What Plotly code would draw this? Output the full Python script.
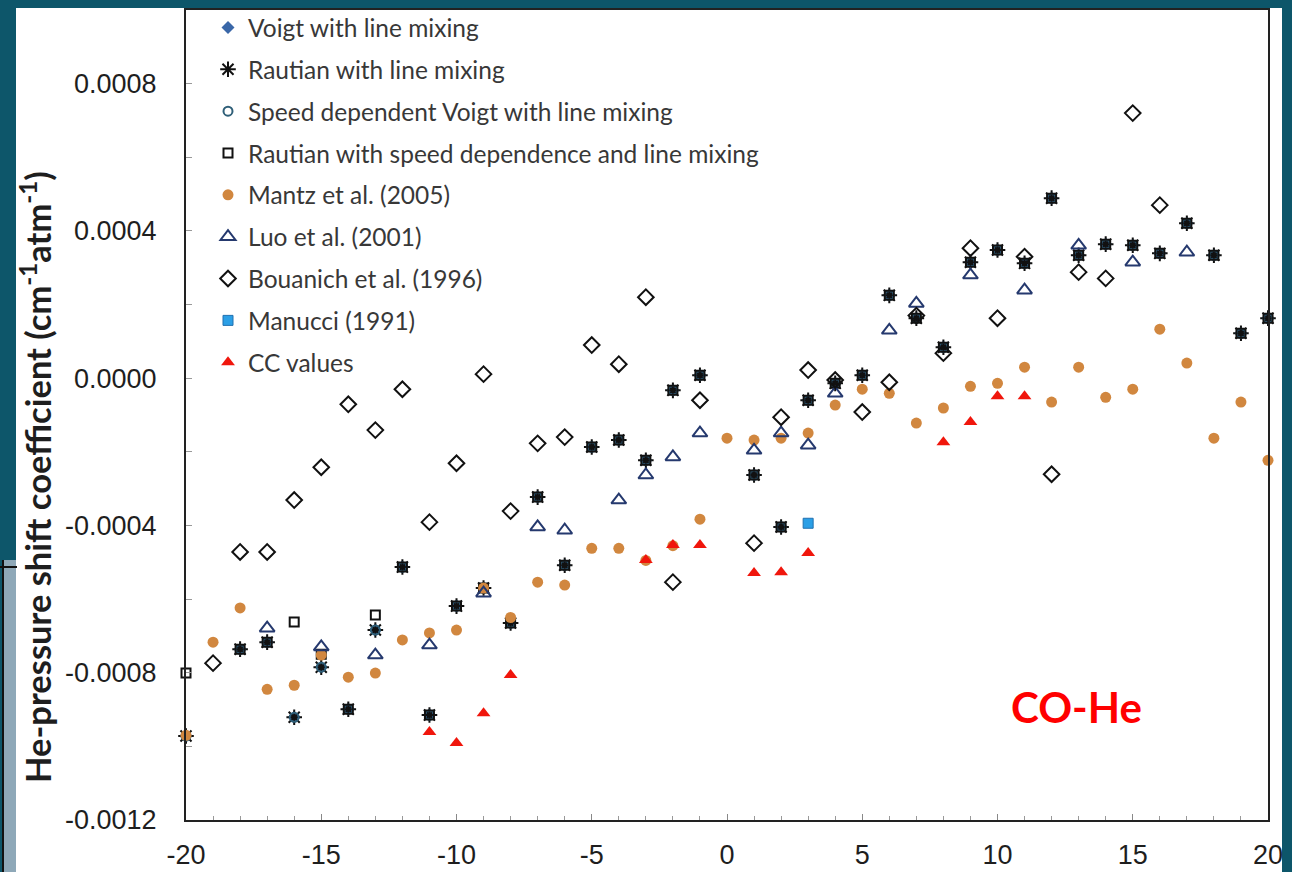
import plotly.graph_objects as go

# Rotational index m and He-pressure shift coefficients (cm-1 atm-1)
m_model = [-20, -18, -17, -16, -15, -14, -13, -12, -11, -10, -9, -8, -7, -6, -5, -4, -3, -2, -1,
           1, 2, 3, 4, 5, 6, 7, 8, 9, 10, 11, 12, 13, 14, 15, 16, 17, 18, 19, 20]
voigt_lm = [-0.000972, -0.000736, -0.000717, -0.000921, -0.000785, -0.000899, -0.000684, -0.000513,
            -0.000915, -0.000619, -0.000570, -0.000665, -0.000323, -0.000508, -0.000187, -0.000168,
            -0.000223, -0.000033, 0.000008,
            -0.000263, -0.000404, -0.000060, -0.000014, 0.000008, 0.000225, 0.000163, 0.000084,
            0.000315, 0.000348, 0.000312, 0.000489, 0.000334, 0.000364, 0.000361, 0.000339,
            0.000421, 0.000334, 0.000122, 0.000163]
rautian_lm = list(voigt_lm)
sdvoigt_lm = list(voigt_lm)
rautian_sd_lm = [-0.000801, -0.000736, -0.000717, -0.000662, -0.000750, -0.000899, -0.000643, -0.000513,
                 -0.000915, -0.000619, -0.000570, -0.000665, -0.000323, -0.000508, -0.000187, -0.000168,
                 -0.000223, -0.000033, 0.000008,
                 -0.000263, -0.000404, -0.000060, -0.000014, 0.000008, 0.000225, 0.000163, 0.000084,
                 0.000315, 0.000348, 0.000312, 0.000489, 0.000334, 0.000364, 0.000361, 0.000339,
                 0.000421, 0.000334, 0.000122, 0.000163]

m_mantz = list(range(-20, 21))
mantz = [-0.000970, -0.000717, -0.000624, -0.000845, -0.000834, -0.000752, -0.000812, -0.000801,
         -0.000711, -0.000692, -0.000684, -0.000570, -0.000650, -0.000554, -0.000562, -0.000462,
         -0.000462, -0.000495, -0.000455, -0.000383, -0.000163, -0.000168, -0.000163, -0.000149,
         -0.000073, -0.000030, -0.000041, -0.000122, -0.000081, -0.000022, -0.000014, 0.000030,
         -0.000065, 0.000030, -0.000052, -0.000030, 0.000133, 0.000041, -0.000163, -0.000065,
         -0.000223]

m_luo = [-17, -15, -13, -11, -9, -7, -6, -4, -3, -2, -1, 1, 2, 3, 4, 6, 7, 9, 11, 13, 15, 17]
luo = [-0.000679, -0.000730, -0.000752, -0.000725, -0.000584, -0.000404, -0.000413, -0.000331,
       -0.000263, -0.000214, -0.000149, -0.000196, -0.000149, -0.000182, -0.000041, 0.000130,
       0.000203, 0.000280, 0.000239, 0.000361, 0.000315, 0.000342]

m_bouanich = [-19, -18, -17, -16, -15, -14, -13, -12, -11, -10, -9, -8, -7, -6, -5, -4, -3, -2, -1,
              1, 2, 3, 4, 5, 6, 7, 8, 9, 10, 11, 12, 13, 14, 15, 16]
bouanich = [-0.000774, -0.000472, -0.000472, -0.000331, -0.000242, -0.000071, -0.000141, -0.000030,
            -0.000391, -0.000231, 0.000011, -0.000361, -0.000177, -0.000160, 0.000090, 0.000038,
            0.000220, -0.000554, -0.000060,
            -0.000448, -0.000106, 0.000022, -0.000005, -0.000092, -0.000011, 0.000170, 0.000068,
            0.000353, 0.000163, 0.000330, -0.000261, 0.000288, 0.000271, 0.000720, 0.000470]

m_manucci = [3]
manucci = [-0.000394]

m_cc = [-11, -10, -9, -8, -3, -2, -1, 1, 2, 3, 8, 9, 10, 11]
cc_values = [-0.000961, -0.000991, -0.000910, -0.000806, -0.000494, -0.000453, -0.000453,
             -0.000529, -0.000527, -0.000475, -0.000174, -0.000119, -0.000049, -0.000049]

# Axis tick labels (hyphen-minus as printed on the axes)
x_tickvals = [-20, -15, -10, -5, 0, 5, 10, 15, 20]
x_ticktext = ["-20", "-15", "-10", "-5", "0", "5", "10", "15", "20"]
y_tickvals = [-0.0012, -0.0008, -0.0004, 0.0, 0.0004, 0.0008]
y_ticktext = ["-0.0012", "-0.0008", "-0.0004", "0.0000", "0.0004", "0.0008"]

# Figure geometry (pixels)
W, H = 1292, 872
ML, MR, MT, MB = 186, 24, 10, 52
PW, PH = W - ML - MR, H - MT - MB


def px_x(p):
    return (p - ML) / PW


def px_y(p):
    return (H - MB - p) / PH


fig = go.Figure()

series = [
    ("Voigt with line mixing", m_model, voigt_lm,
     dict(symbol="diamond", size=10, color="#3a67a8", line=dict(width=0))),
    ("Rautian with line mixing", m_model, rautian_lm,
     dict(symbol="asterisk-open", size=13, color="#111111", line=dict(width=2, color="#111111"))),
    ("Speed dependent Voigt with line mixing", m_model, sdvoigt_lm,
     dict(symbol="circle-open", size=9, color="#2f5f78", line=dict(width=2, color="#2f5f78"))),
    ("Rautian with speed dependence and line mixing", m_model, rautian_sd_lm,
     dict(symbol="square-open", size=9, color="#111111", line=dict(width=2, color="#111111"))),
    ("Mantz et al. (2005)", m_mantz, mantz,
     dict(symbol="circle", size=11, color="#d1873f", line=dict(width=0))),
    ("Luo et al. (2001)", m_luo, luo,
     dict(symbol="triangle-up-open", size=13, color="#25396e", line=dict(width=2, color="#25396e"))),
    ("Bouanich et al. (1996)", m_bouanich, bouanich,
     dict(symbol="diamond-open", size=12, color="#111111", line=dict(width=2, color="#111111"))),
    ("Manucci (1991)", m_manucci, manucci,
     dict(symbol="square", size=10, color="#2b9fe6", line=dict(width=1, color="#2070b0"))),
    ("CC values", m_cc, cc_values,
     dict(symbol="triangle-up", size=12, color="#f0160c", line=dict(width=0))),
]

for i, (name, xs, ys, mk) in enumerate(series):
    fig.add_trace(go.Scatter(
        x=xs, y=ys, name=name, mode="markers", marker=mk,
        cliponaxis=False, legendgroup=f"g{i}",
    ))

fig.update_layout(
    width=W, height=H,
    margin=dict(l=ML, r=MR, t=MT, b=MB, pad=0, autoexpand=False),
    paper_bgcolor="#0d566a",
    plot_bgcolor="white",
    font=dict(family="Lato, 'Open Sans', sans-serif", color="#2a2a2a"),
    showlegend=True,
    legend=dict(
        x=px_x(208), y=px_y(5), xanchor="left", yanchor="top",
        bgcolor="rgba(0,0,0,0)", borderwidth=0,
        font=dict(family="Lato, sans-serif", size=24.5, color="#383838"),
        tracegroupgap=7.0, itemsizing="trace",
    ),
)

tick_font = dict(family="'Liberation Sans', Arial, sans-serif", size=27, color="#1e1e1e")

fig.update_xaxes(
    range=[-20, 20], tickvals=x_tickvals, ticktext=x_ticktext,
    showgrid=False, zeroline=False, automargin=False,
    showline=True, linecolor="#222222", linewidth=2, mirror=True,
    ticks="inside", ticklen=6, tickcolor="#888888", tickwidth=1,
    minor=dict(dtick=1, tick0=0, ticks="inside", ticklen=4, tickcolor="#999999"),
    tickfont=tick_font,
    ticklabelstandoff=10,
)
fig.update_yaxes(
    range=[-0.0012, 0.0010], tickvals=y_tickvals, ticktext=y_ticktext,
    showgrid=False, zeroline=False, automargin=False,
    showline=True, linecolor="#222222", linewidth=2, mirror=True,
    ticks="inside", ticklen=6, tickcolor="#999999", tickwidth=1,
    minor=dict(dtick=0.0002, tick0=0, ticks="inside", ticklen=6, tickcolor="#999999"),
    tickfont=tick_font,
    ticklabelstandoff=22,
)

# White slide panel behind the chart, with the left edge strip
fig.add_shape(type="rect", xref="paper", yref="paper", layer="below",
              x0=px_x(16), x1=px_x(1282), y0=px_y(872), y1=px_y(8),
              fillcolor="white", line=dict(width=0))
fig.add_shape(type="rect", xref="paper", yref="paper", layer="below",
              x0=px_x(4), x1=px_x(16), y0=px_y(872), y1=px_y(560),
              fillcolor="#8ea8b8", line=dict(width=0))
fig.add_shape(type="line", xref="paper", yref="paper",
              x0=px_x(3), x1=px_x(3), y0=px_y(872), y1=px_y(560),
              line=dict(color="#111111", width=2))
fig.add_shape(type="line", xref="paper", yref="paper",
              x0=px_x(0), x1=px_x(17), y0=px_y(567), y1=px_y(567),
              line=dict(color="#111111", width=2))

fig.add_annotation(
    text="<b>He-pressure shift coefficient (cm<sup>-1</sup>atm<sup>-1</sup>)</b>",
    xref="paper", yref="paper", x=px_x(35), y=px_y(477),
    xanchor="center", yanchor="middle", textangle=-90, showarrow=False,
    font=dict(family="Lato, sans-serif", size=34.5, color="#1e1e1e"),
)
fig.add_annotation(
    text="<b>CO-He</b>",
    xref="paper", yref="paper", x=px_x(1076), y=px_y(707),
    xanchor="center", yanchor="middle", showarrow=False,
    font=dict(family="Lato, sans-serif", size=42, color="#ff0000"),
)

fig.write_html("out.html")
